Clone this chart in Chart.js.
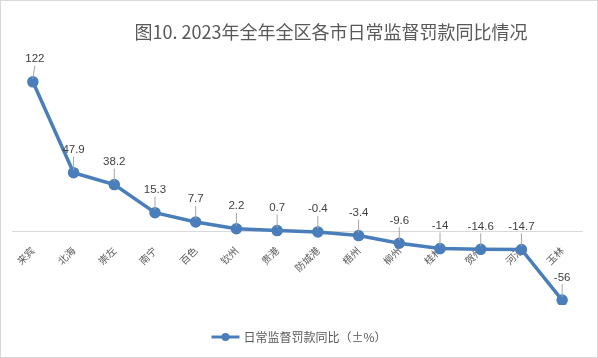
<!DOCTYPE html>
<html>
<head>
<meta charset="utf-8">
<script src="https://cdn.jsdelivr.net/npm/chart.js@4"></script>
<style>
  body { margin: 0; background: #fff; }
  .box { width: 598px; height: 358px; box-sizing: border-box; border: 1px solid #d9d9d9; }
</style>
</head>
<body>
<div class="box"><canvas id="chart" width="596" height="356"></canvas></div>
<script>
const titleText = "图10. 2023年全年全区各市日常监督罚款同比情况";
const seriesName = "日常监督罚款同比（±%）";
const cities = ["来宾", "北海", "崇左", "南宁", "百色", "钦州", "贵港", "防城港", "梧州", "柳州", "桂林", "贺州", "河池", "玉林"];
const yoy = [122, 47.9, 38.2, 15.3, 7.7, 2.2, 0.7, -0.4, -3.4, -9.6, -14, -14.6, -14.7, -56];

const cjk = "'Noto Sans CJK SC', 'Microsoft YaHei', sans-serif";
const blue = "#4a7ebb";

// title, value labels with leader lines, and the legend
const extras = {
    id: "extras",
    afterDatasetsDraw(chart) {
        const ctx = chart.ctx;
        const meta = chart.getDatasetMeta(0);
        ctx.save();

        ctx.font = "11.5px 'Liberation Sans', Arial, sans-serif";
        ctx.textAlign = "center";
        ctx.textBaseline = "bottom";
        meta.data.forEach((pt, i) => {
            const lx = pt.x + (i === 0 ? 2 : 0);
            const ly = pt.y - 17;
            ctx.strokeStyle = "#a6a6a6";
            ctx.lineWidth = 1;
            ctx.beginPath();
            ctx.moveTo(pt.x, pt.y - 3);
            ctx.lineTo(lx, ly + 1);
            ctx.stroke();
            ctx.fillStyle = "#404040";
            ctx.fillText(String(yoy[i]), lx, ly);
        });

        ctx.font = "18px " + cjk;
        ctx.fillStyle = "#595959";
        ctx.textBaseline = "middle";
        ctx.fillText(titleText, 330, 31);

        ctx.font = "12px " + cjk;
        const tw = ctx.measureText(seriesName).width;
        const total = 28 + 4 + tw;
        const x0 = chart.width / 2 - total / 2;
        const y0 = 336;
        ctx.strokeStyle = blue;
        ctx.lineWidth = 3;
        ctx.beginPath();
        ctx.moveTo(x0, y0);
        ctx.lineTo(x0 + 28, y0);
        ctx.stroke();
        ctx.fillStyle = blue;
        ctx.beginPath();
        ctx.arc(x0 + 14, y0, 4, 0, Math.PI * 2);
        ctx.fill();
        ctx.fillStyle = "#595959";
        ctx.textAlign = "left";
        ctx.fillText(seriesName, x0 + 32, y0);

        ctx.restore();
    }
};

new Chart(document.getElementById("chart"), {
    type: "line",
    data: {
        labels: cities,
        datasets: [{
            label: seriesName,
            data: yoy,
            borderColor: blue,
            backgroundColor: blue,
            borderWidth: 3.5,
            pointRadius: 4,
            pointBackgroundColor: blue,
            pointBorderColor: blue,
            tension: 0,
        }],
    },
    options: {
        responsive: false,
        animation: false,
        layout: { padding: { top: 71, bottom: 52, left: 11.5, right: 14.5 } },
        plugins: {
            legend: { display: false },
            title: { display: false },
            tooltip: { enabled: false },
        },
        scales: {
            y: {
                display: false,
                min: -60,
                max: 130,
            },
            x: {
                position: { y: 0 },
                offset: true,
                grid: { display: false, drawTicks: false },
                border: { display: true, color: "#d9d9d9", width: 1 },
                ticks: {
                    color: "#595959",
                    font: { family: cjk, size: 10 },
                    maxRotation: 45,
                    minRotation: 45,
                    padding: 13,
                    autoSkip: false,
                },
            },
        },
    },
    plugins: [extras],
});
</script>
</body>
</html>
